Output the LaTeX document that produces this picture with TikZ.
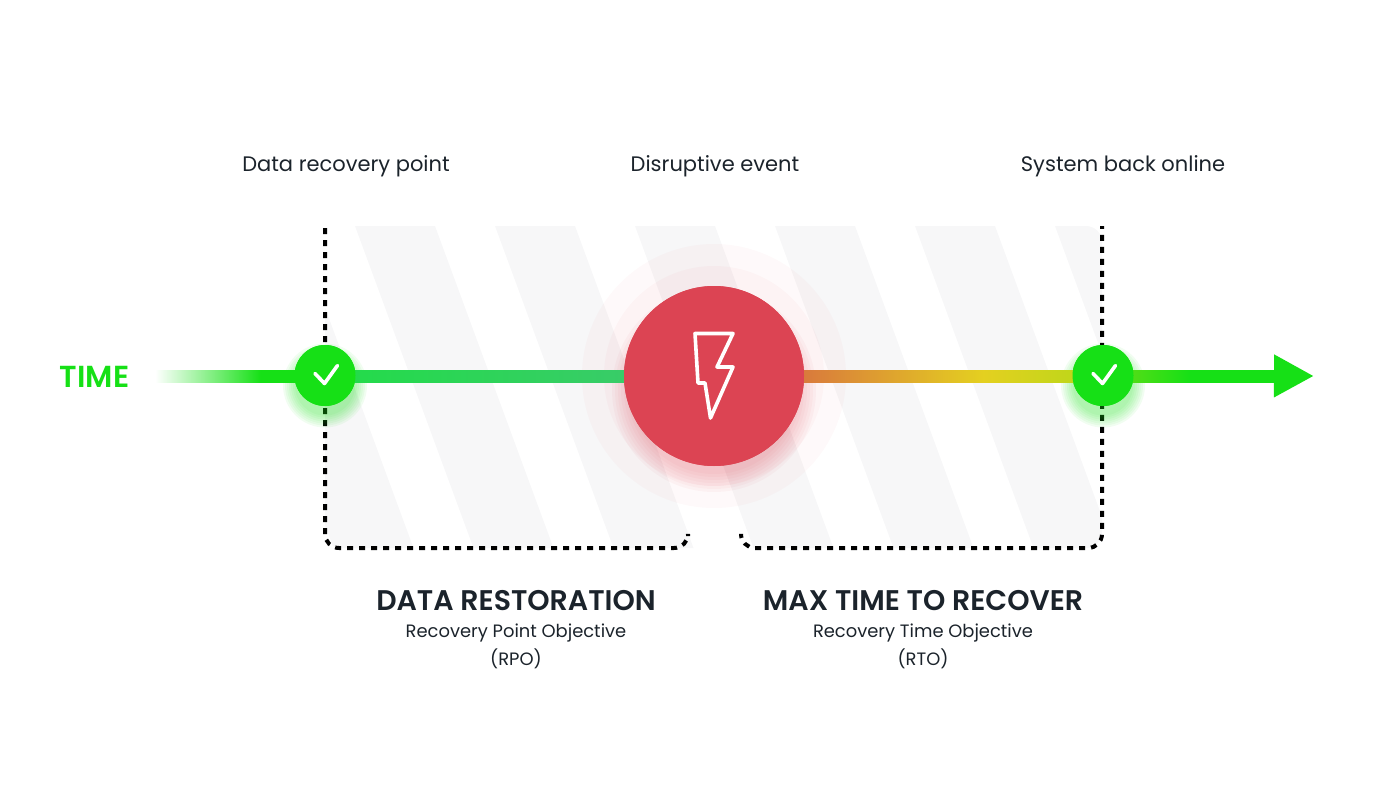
\documentclass[tikz,border=0pt]{standalone}
\usepackage{fontspec}
\setmainfont{Poppins}
\newfontfamily\semifont{Poppins SemiBold}
\usetikzlibrary{arrows.meta, positioning, calc}
\definecolor{CInk}{HTML}{1B232B}
\definecolor{CGreen}{HTML}{16E016}
\definecolor{CRed}{HTML}{DC4453}
\definecolor{CStripe}{HTML}{F7F7F8}
\definecolor{CMint}{HTML}{22DC48}
\definecolor{CSea}{HTML}{38CC68}
\definecolor{COrange}{HTML}{D97A3C}
\definecolor{CYellow}{HTML}{E4D020}
\definecolor{CLime}{HTML}{B4D818}
\pgfdeclarehorizontalshading{fadeshade}{100bp}{color(0bp)=(white); color(25bp)=(white); color(56bp)=(CGreen); color(100bp)=(CGreen)}
\pgfdeclarehorizontalshading{rtoshade}{100bp}{color(0bp)=(COrange); color(25bp)=(COrange); color(55bp)=(CYellow); color(75bp)=(CLime); color(100bp)=(CLime)}
\pgfdeclarehorizontalshading{lastshade}{100bp}{color(0bp)=(CLime); color(25bp)=(CLime!55!CGreen); color(50bp)=(CGreen); color(100bp)=(CGreen)}
\tikzset{
    okdot/.style={circle, fill=CGreen, minimum size=61pt, inner sep=0pt},
    eventdot/.style={circle, fill=CRed, minimum size=180pt, inner sep=0pt},
    toplabel/.style={font=\fontsize{21}{24}\selectfont, color=CInk, inner sep=0pt},
    titlelabel/.style={font=\fontsize{28.4}{30}\semifont, color=CInk, inner sep=0pt},
    sublabel/.style={font=\fontsize{17.9}{22}\selectfont, color=CInk, inner sep=0pt},
    dotline/.style={draw=black, line width=4pt, dash pattern=on 6pt off 6pt, rounded corners=14pt},
    timeline/.style={draw=CGreen, line width=10pt},
    tickmark/.style={draw=white, line width=3.6pt, line cap=round, line join=round}
}
\newcommand{\okglow}[1]{%
    \foreach \r in {30,32,...,42} \fill[CGreen, opacity=0.06] ($(#1)+(0,10)$) circle (\r);
}
\newcommand{\oktick}[1]{%
    \draw[tickmark] ($(#1)+(-10,-2)$) -- ++(9.5,10) -- ++(13,-18);
}
\begin{document}
\begin{tikzpicture}[x=1pt, y=-1pt]
    \useasboundingbox (0,0) rectangle (1400,800);

    % Stripes
    \begin{scope}
        \clip[rounded corners=16pt] (325,226) rectangle (1102,548);
        \foreach \x in {215,355,...,1055}
            \fill[CStripe] (\x,226) -- ({\x+80},226) -- ({\x+198.5},548) -- ({\x+118.5},548) -- cycle;
    \end{scope}

    % Nodes
    \coordinate (timestart) at (155,376);
    \coordinate (timetip) at (1314,376);
    \coordinate (headbase) at (1276,376);
    \node[okdot] (okstart) at (325,375.5) {};
    \node[okdot] (okend) at (1103,375.5) {};
    \node[eventdot] (event) at (714,376) {};

    % Brackets
    \coordinate (rpotop) at (325,228);
    \coordinate (rpoend) at (688,536);
    \coordinate (rtoend) at (741,536);
    \coordinate (rtotop) at (1102,226);
    \draw[dotline] (rpotop) |- (rpoend |- 0,548) -- (rpoend);
    \draw[dotline] (rtoend) |- (rtotop |- 0,548) -- (rtotop);

    % Glow
    \okglow{okstart}
    \okglow{okend}
    \fill[CRed, opacity=0.03] (event) circle (132);
    \fill[CRed, opacity=0.035] (event) circle (110);
    \foreach \r in {84,87,...,102} \fill[CRed, opacity=0.045] ($(event)+(0,14)$) circle (\r);

    % Paths
    \draw[timeline] ($(timestart)+(20,0)$) -- (okstart);
    \draw[timeline] (okstart) -- (event);
    \draw[timeline] (event) -- (okend);
    \draw[timeline, -{Triangle[length=40pt, width=40pt]}] (okend) -- (timetip);
    \path[shading=fadeshade] ($(timestart)+(0,-6)$) rectangle ($(okstart.center |- timestart)+(0,6)$);
    \path[left color=CMint, right color=CSea] ($(okstart.center |- timestart)+(0,-6)$) rectangle ($(event.west)+(0,6)$);
    \path[shading=rtoshade] ($(event.east)+(0,-6)$) rectangle ($(okend.center |- timestart)+(0,6)$);
    \path[shading=lastshade] ($(okend.center |- timestart)+(0,-6)$) rectangle ($(headbase)+(0,6)$);

    % Dots on top
    \node[okdot] at (okstart) {};
    \node[okdot] at (okend) {};
    \node[eventdot] at (event) {};
    \oktick{okstart}
    \oktick{okend}
    \draw[tickmark, miter limit=3] (695,333.5) -- (733,333.5) -- (717,367) -- (733,367) -- (710.5,418) -- (705,383) -- (698,383) -- cycle;

    % Labels
    \node[font=\fontsize{30.4}{30}\semifont, color=CGreen, inner sep=0pt] (timelabel) at (94.5,377) {TIME};
    \node[toplabel] (recoverylabel) at (346,166) {Data recovery point};
    \node[toplabel] (eventlabel) at (715,166) {Disruptive event};
    \node[toplabel] (onlinelabel) at (1123,166) {System back online};
    \node[titlelabel] (rpotitle) at (516,601) {DATA RESTORATION};
    \node[sublabel] (rponame) at (516,633) {Recovery Point Objective};
    \node[sublabel] (rposhort) at (516,659) {(RPO)};
    \node[titlelabel] (rtotitle) at (923,601) {MAX TIME TO RECOVER};
    \node[sublabel] (rtoname) at (923,633) {Recovery Time Objective};
    \node[sublabel] (rtoshort) at (923,659) {(RTO)};
\end{tikzpicture}
\end{document}
